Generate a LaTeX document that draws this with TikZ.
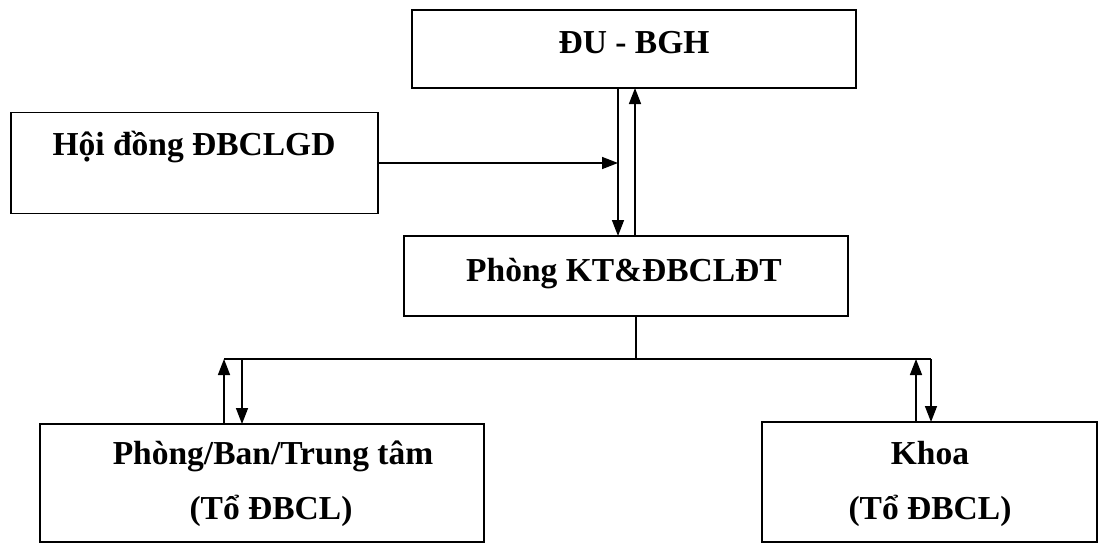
\documentclass[tikz,border=0pt]{standalone}
\usepackage{fontspec}
\setmainfont{Liberation Serif}
\usetikzlibrary{arrows.meta}
\begin{document}
\begin{tikzpicture}[x=1pt,y=-1pt,
  box/.style={draw, line width=1.8pt, inner sep=0pt, outer sep=0pt},
  lab/.style={font=\fontsize{33.5}{40}\selectfont\bfseries, inner sep=0pt, anchor=base},
  conn/.style={line width=1.5pt},
  arr/.style={line width=1.5pt, -{Triangle[length=16pt,width=12pt]}}]
\useasboundingbox (0,0) rectangle (1098,544);
% boxes
\node[box, minimum width=444pt, minimum height=78pt] (bgh) at (634,49) {};
\node[box, minimum width=367pt, minimum height=101pt] (hd) at (194.5,163) {};
\node[box, minimum width=444pt, minimum height=80pt] (kt) at (626,276) {};
\node[box, minimum width=444pt, minimum height=118pt] (pb) at (262,483) {};
\node[box, minimum width=335pt, minimum height=120pt] (kh) at (929.5,482) {};
% labels
\node[lab] (t1) at (634,53) {ĐU - BGH};
\node[lab] (t2) at (194,155) {Hội đồng ĐBCLGD};
\node[lab] (t3) at (624,281) {Phòng KT\&ĐBCLĐT};
\node[lab] (t4) at (273,464) {Phòng/Ban/Trung tâm};
\node[lab] (t5) at (271,519) {(Tổ ĐBCL)};
\node[lab] (t6) at (930,464) {Khoa};
\node[lab] (t7) at (930,519) {(Tổ ĐBCL)};
% helper coordinates
\coordinate (dl) at ([xshift=-16pt]bgh.south);
\coordinate (ul) at ([xshift=1pt]bgh.south);
\coordinate (st) at ([xshift=10pt]kt.south);
\coordinate (bus) at (636,359);
\coordinate (bl) at (224,359);
\coordinate (bl2) at (242,359);
\coordinate (br2) at (916,359);
\coordinate (br) at (931,359);
% top connectors
\draw[arr] (dl) -- (dl |- kt.north);
\draw[arr] (ul |- kt.north) -- (ul);
\draw[arr] (hd.east) -- (hd.east -| dl);
% bus
\draw[conn] (st) -- (bus);
\draw[conn] (bl) -- (br);
% bottom connectors
\draw[arr] (bl |- pb.north) -- (bl);
\draw[arr] (bl2) -- (bl2 |- pb.north);
\draw[arr] (br2 |- kh.north) -- (br2);
\draw[arr] (br) -- (br |- kh.north);
\end{tikzpicture}
\end{document}
